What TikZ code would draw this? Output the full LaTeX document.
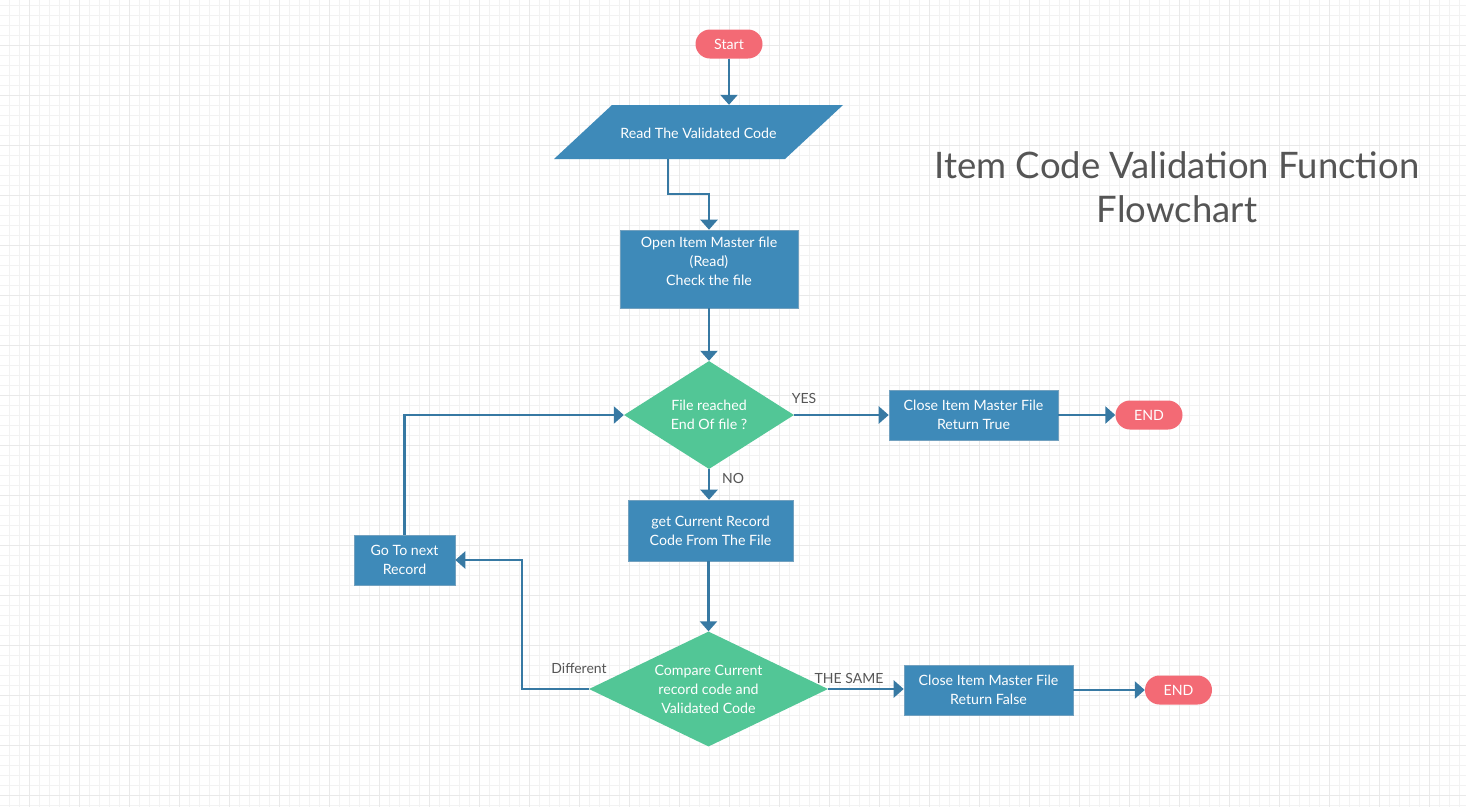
\documentclass[tikz,border=0pt]{standalone}
\usepackage{fontspec}
\setmainfont{Lato}
\usetikzlibrary{arrows.meta,shapes.geometric,calc}
\definecolor{boxblue}{HTML}{3E8AB9}
\definecolor{linecol}{HTML}{3779A3}
\definecolor{diagreen}{HTML}{52C696}
\definecolor{pillred}{HTML}{F36A75}
\definecolor{lblgray}{HTML}{555555}
\definecolor{gridminor}{HTML}{F2F2F2}
\definecolor{gridmajor}{HTML}{E9E9E9}
\tikzset{
  boxtxt/.style={text=white, font=\fontsize{14.2}{19}\selectfont, align=center},
  procbox/.style={boxtxt, rectangle, fill=boxblue, draw=linecol!70, line width=0.6pt, inner sep=0pt},
  decision/.style={boxtxt, diamond, fill=diagreen, inner sep=0pt},
  pill/.style={boxtxt, rectangle, rounded corners=14.5pt, fill=pillred, minimum width=67pt, minimum height=29pt, inner sep=0pt},
  arr/.style={draw=linecol, line width=2.4pt, -{Triangle[width=17pt,length=10pt]}},
  lbl/.style={text=lblgray, font=\fontsize{14}{16}\selectfont, inner sep=0pt},
}
\begin{document}
\begin{tikzpicture}[x=1pt,y=-1pt]
\useasboundingbox (0,0) rectangle (1466,807);
\fill[white] (0,0) rectangle (1466,807);
% grid
\foreach \i in {0,...,146} {\draw[gridminor, line width=0.6pt] ({9.5+10*\i},0) -- ({9.5+10*\i},807);}
\foreach \j in {0,...,80} {\draw[gridminor, line width=0.6pt] (0,{5.5+10*\j}) -- (1466,{5.5+10*\j});}
\foreach \i in {0,...,29} {\draw[gridmajor, line width=0.6pt] ({29.5+50*\i},0) -- ({29.5+50*\i},807);}
\foreach \j in {0,...,16} {\draw[gridmajor, line width=0.6pt] (0,{45.5+50*\j}) -- (1466,{45.5+50*\j});}

% title
\node[text=lblgray, font=\fontsize{36.5}{44}\selectfont, align=center, anchor=base] (title) at (1177,222) {Item Code Validation Function\\Flowchart};

% nodes
\node[pill] (start) at (729,44) {Start};
\node[minimum width=231pt, minimum height=54pt, inner sep=0pt] (read) at (698.5,132) {};
\fill[boxblue] ($(read.center)+(-86.5,-27)$) -- ($(read.center)+(144.5,-27)$) -- ($(read.center)+(86.5,27)$) -- ($(read.center)+(-144.5,27)$) -- cycle;
\node[boxtxt] (readt) at (698.5,133.5) {Read The Validated Code};
\node[procbox, minimum width=178pt, minimum height=78pt] (b2) at (709,269) {};
\node[boxtxt] (b2t) at (709,261) {Open Item Master file\\(Read)\\Check the file};
\node[decision, aspect=1.57, minimum width=170pt, minimum height=108pt] (d1) at (709,415) {File reached\\End Of file ?};
\node[procbox, minimum width=169pt, minimum height=50pt] (b3) at (973.5,415) {Close Item Master File\\Return True};
\node[pill] (end1) at (1149,415) {END};
\node[procbox, minimum width=165pt, minimum height=61pt] (b4) at (710.5,530.5) {get Current Record\\Code From The File};
\node[decision, aspect=2.08, minimum width=239pt, minimum height=115pt] (d2) at (708.5,689) {Compare Current\\record code and\\Validated Code};
\node[procbox, minimum width=101pt, minimum height=50pt] (b5) at (404.5,560) {Go To next\\Record};
\node[procbox, minimum width=169pt, minimum height=50pt] (b6) at (988.5,690) {Close Item Master File\\Return False};
\node[pill] (end2) at (1178.5,690) {END};

% connectors
\draw[arr] (start) -- (read.north -| start);
\draw[arr] ([xshift=-30.5pt]read.south) -- ++(0,35) -| (b2.north);
\draw[arr] (b2) -- (d1);
\draw[arr] (d1.east) -- (b3.west);
\draw[arr] (b3) -- (end1);
\draw[arr] (d1) -- (b4.north -| d1);
\draw[arr] (b4.south -| d2) -- (d2);
\draw[arr] (d2.west) -- ++(-67,0) |- (b5.east);
\draw[arr] (b5.north) |- (d1.west);
\draw[arr] (d2.east) -- (d2.east -| b6.west);
\draw[arr] (b6) -- (end2);

% labels
\node[lbl] (yes) at (804,398) {YES};
\node[lbl] (no) at (733,478) {NO};
\node[lbl] (diff) at (579,668) {Different};
\node[lbl] (same) at (849,678) {THE SAME};
\end{tikzpicture}
\end{document}
